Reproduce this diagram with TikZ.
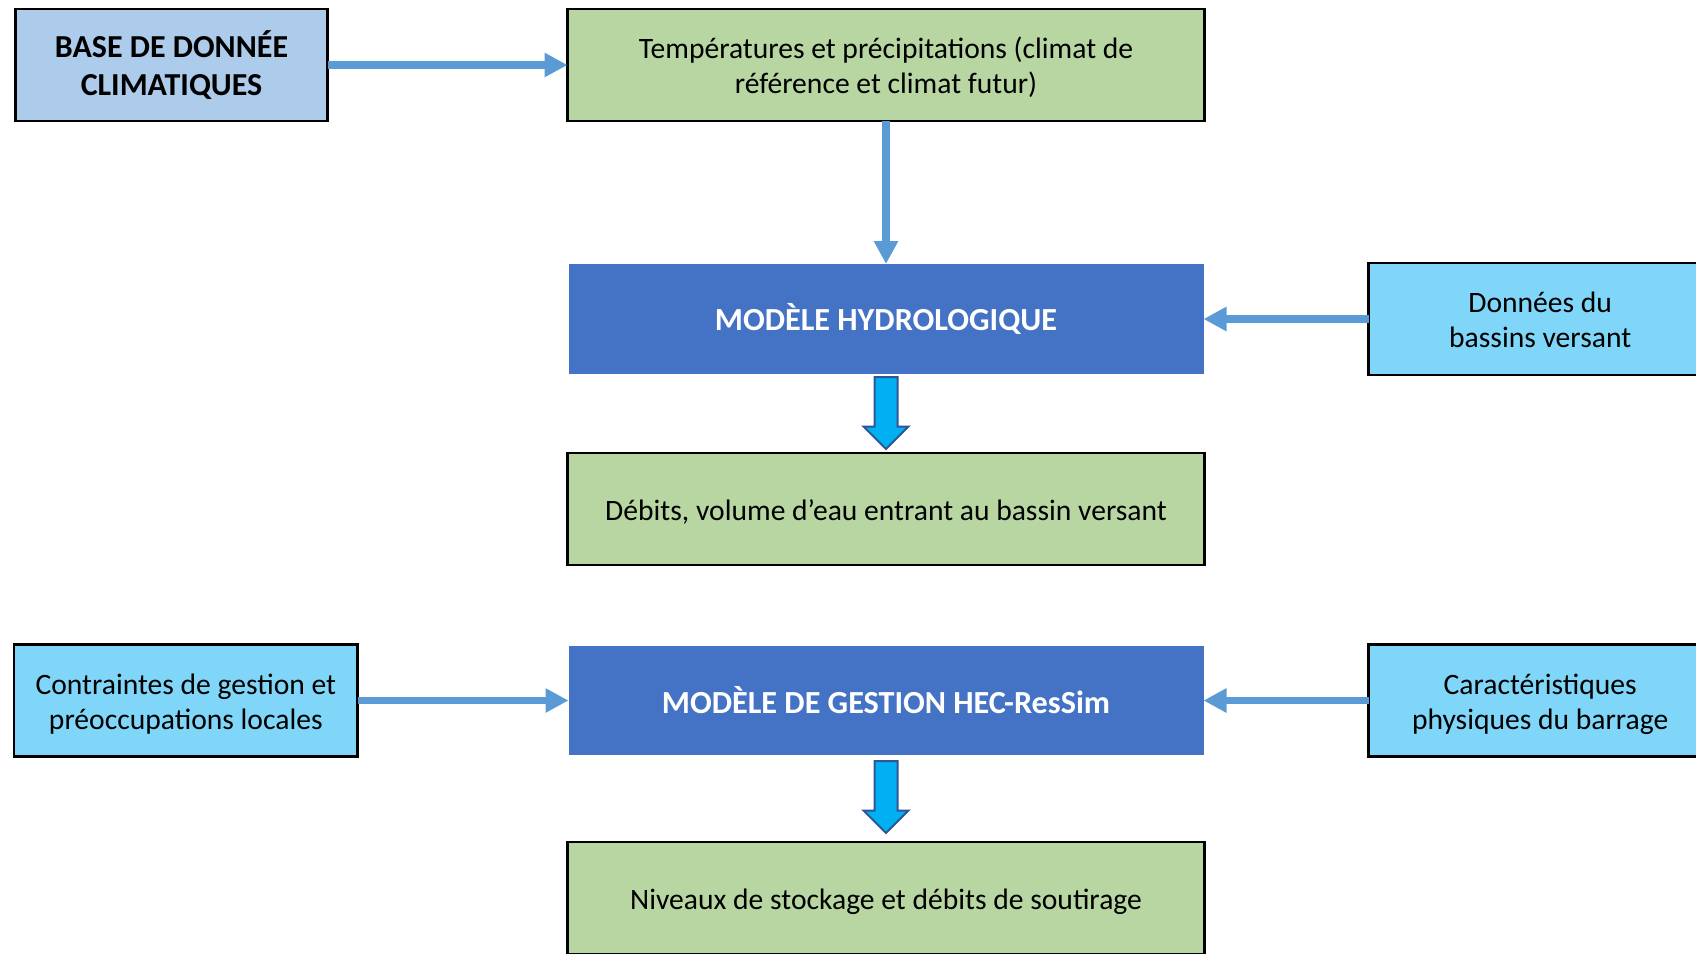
\documentclass[tikz,border=0pt]{standalone}
\usepackage{fontspec}
\setmainfont{Carlito}
\usetikzlibrary{arrows.meta, positioning, calc, shapes.arrows}

\definecolor{greenfill}{HTML}{B8D6A2}
\definecolor{basefill}{HTML}{ADCBEA}
\definecolor{modelfill}{HTML}{4472C4}
\definecolor{cyanfill}{HTML}{80D6F8}
\definecolor{lineblue}{HTML}{5B9BD5}
\definecolor{arrowfill}{HTML}{00B0F0}
\definecolor{arrowdraw}{HTML}{2F5597}

\begin{document}
\begin{tikzpicture}[x=0.5pt, y=-0.5pt]
		\tikzset{
			box/.style={rectangle, draw=black, line width=1.3pt, outer sep=0pt, align=center, font=\fontsize{14.8}{17.4}\selectfont},
			textline/.style={align=flush center, execute at begin node={\rule{0pt}{1em}}, execute at end node={\rule[-0.25em]{0pt}{0.25em}}},
			result/.style={box, textline, text width=300pt, fill=greenfill, minimum width=318.5pt, minimum height=56pt},
			source/.style={box, fill=basefill, minimum width=156pt, minimum height=56pt, font=\fontsize{16}{19}\selectfont\bfseries},
			input/.style={box, textline, text width=165pt, fill=cyanfill, minimum width=171pt, minimum height=56pt},
			model/.style={rectangle, fill=modelfill, outer sep=0pt, minimum width=317.5pt, minimum height=55pt, text=white, font=\fontsize{16.1}{19}\selectfont\bfseries},
			feed/.style={-{Triangle[length=11.5pt, width=11.5pt]}, color=lineblue, line width=3.7pt},
			bigarrow/.style={single arrow, rotate=-90, anchor=tail, fill=arrowfill, draw=arrowdraw, line width=1pt, minimum height=36pt, inner xsep=0pt, inner ysep=5.25pt, single arrow head extend=5.5pt}
		}
		\useasboundingbox (0,0) rectangle (1696,953);

		\node[result] (climate) at (886,65) {Températures et précipitations (climat de\\référence et climat futur)};
		\node[model, below=71.5pt of climate] (hydro) {MODÈLE HYDROLOGIQUE};
		\node[result, below=39.5pt of hydro] (inflow) {Débits, volume d’eau entrant au bassin versant};
		\node[model, below=40.5pt of inflow, minimum height=54.5pt] (gestion) {MODÈLE DE GESTION HEC-ResSim};
		\node[result, below=43.5pt of gestion] (storage) {Niveaux de stockage et débits de soutirage};

		\node[source, left=120pt of climate] (database) {BASE DE DONNÉE\\CLIMATIQUES};
		\node[input, right=82.5pt of hydro] (basin) {Données du\\bassins versant};
		\node[input, left=105.5pt of gestion] (constraints) {Contraintes de gestion et\\préoccupations locales};
		\node[input, right=82.5pt of gestion] (dam) {Caractéristiques\\physiques du barrage};

		\node[bigarrow] (flow1) at ($(hydro.south)+(0,2)$) {};
		\node[bigarrow] (flow2) at ($(gestion.south)+(0,5)$) {};

		\draw[feed] (database) -- (climate);
		\draw[feed] (climate) -- (hydro);
		\draw[feed] (basin) -- (hydro);
		\draw[feed] (constraints) -- (gestion);
		\draw[feed] (dam) -- (gestion);
	\end{tikzpicture}
\end{document}
